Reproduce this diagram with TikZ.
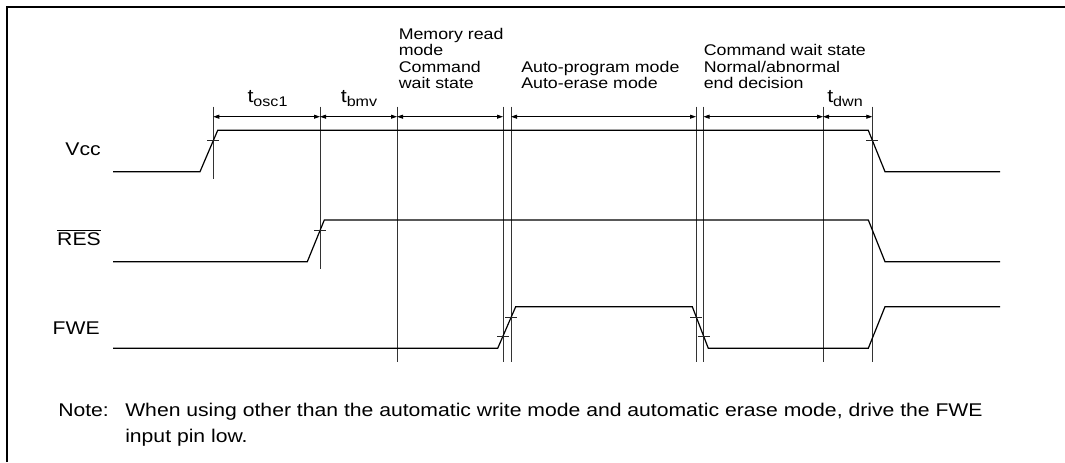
\documentclass[tikz,border=0pt]{standalone}
\usepackage{fontspec}
\setmainfont{Liberation Sans}[FakeStretch=1.15]
\usetikzlibrary{arrows.meta}
\begin{document}
\begin{tikzpicture}[x=0.75pt,y=-0.75pt,
  sig/.style={line width=0.9pt, black},
  vline/.style={line width=0.6pt, black!80},
  tickmark/.style={line width=0.6pt, black!85},
  dim/.style={line width=0.6pt, {Triangle[length=4.5pt,width=3pt]}-{Triangle[length=4.5pt,width=3pt]}},
  lbl/.style={inner sep=0pt, font=\fontsize{11.6}{12.2}\selectfont},
  tlbl/.style={inner sep=0pt, font=\fontsize{14}{14}\selectfont},
  big/.style={inner sep=0pt, font=\fontsize{13.8}{19.5}\selectfont},
]
\useasboundingbox (0,0) rectangle (1065,462);
% frame
\draw[line width=1.5pt] (7,462) -- (7,6.7) -- (1065,6.7);

% reference coordinates on the dimension line
\coordinate (d1) at (213.25,116.7);
\coordinate (d2) at (320,116.7);
\coordinate (d3) at (397,116.7);
\coordinate (d4) at (503,116.7);
\coordinate (d5) at (511,116.7);
\coordinate (d6) at (696,116.7);
\coordinate (d7) at (703.5,116.7);
\coordinate (d8) at (823,116.7);
\coordinate (d9) at (872.3,116.7);

% vertical timing lines
\draw[vline] (213.25,106.7) -- (213.25,179.3);
\draw[vline] (320,106.7) -- (320,269.3);
\foreach \x in {397,503,511,696,703.5,823,872.3}
  \draw[vline] (\x,106.7) -- (\x,361.7);

% dimension arrows
\draw[dim] (d1) -- (d2);
\draw[dim] (d2) -- (d3);
\draw[dim] (d3) -- (d4);
\draw[dim] (d5) -- (d6);
\draw[dim] (d7) -- (d8);
\draw[dim] (d8) -- (d9);

% signals
\draw[sig] (113,171.7) -- (200,171.7) -- (217.7,130.3) -- (868.3,130.3) -- (885,171.7) -- (1000,171.7);
\draw[sig] (113,261.7) -- (307.3,261.7) -- (324.3,220) -- (868.3,220) -- (885,261.7) -- (1000,261.7);
\draw[sig] (113,348.3) -- (497.7,348.3) -- (515.7,306.7) -- (692.3,306.7) -- (708.3,348.3) -- (868.3,348.3) -- (885,306.7) -- (1000,306.7);

% tick marks
\foreach \x/\y in {213.25/140.7, 320/230.7, 503/336, 511/317.3, 696/317.3, 703.5/336, 872.3/140.7}
  \draw[tickmark] (\x-6,\y) -- (\x+6,\y);

% timing labels
\node[tlbl, anchor=base] (tosc) at (267.5,102) {t\raisebox{-3.5pt}{\fontsize{10.5}{10.5}\selectfont osc1}};
\node[tlbl, anchor=base] (tbmv) at (359,102) {t\raisebox{-3.5pt}{\fontsize{10.5}{10.5}\selectfont bmv}};
\node[tlbl, anchor=base] (tdwn) at (845,102) {t\raisebox{-3.5pt}{\fontsize{10.5}{10.5}\selectfont dwn}};

% state labels
\node[lbl, anchor=base west] (memread) at (398.5,88.5) {\begin{tabular}[b]{@{}l@{}}Memory read\\mode\\Command\\wait state\end{tabular}};
\node[lbl, anchor=base west] (autoprog) at (521,88.5) {\begin{tabular}[b]{@{}l@{}}Auto-program mode\\Auto-erase mode\end{tabular}};
\node[lbl, anchor=base west] (cmdwait) at (703.5,88.5) {\begin{tabular}[b]{@{}l@{}}Command wait state\\Normal/abnormal\\end decision\end{tabular}};

% signal names
\node[big, anchor=base east] (vcc) at (101,155) {Vcc};
\node[big, anchor=base east] (res) at (101,245) {$\overline{\mbox{RES}}$};
\node[big, anchor=base east] (fwe) at (100,334) {FWE};

% note
\node[big, anchor=base west] (notelbl) at (58,416) {Note:};
\node[big, anchor=base west] (notetxt) at (125,416) {\begin{tabular}[t]{@{}l@{}}When using other than the automatic write mode and automatic erase mode, drive the FWE\\input pin low.\end{tabular}};
\end{tikzpicture}
\end{document}
